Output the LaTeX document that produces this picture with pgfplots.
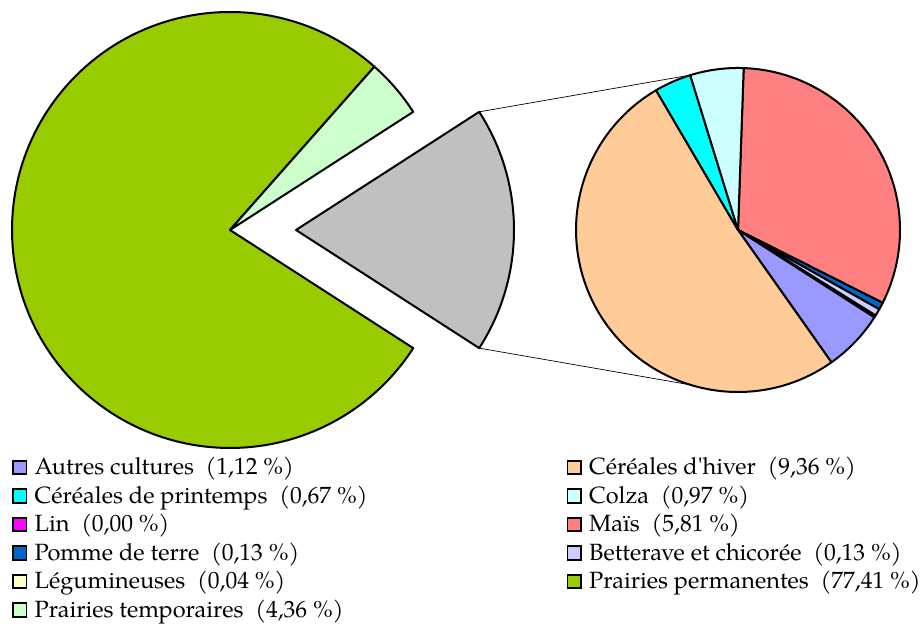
\documentclass[border=0pt]{standalone}
\usepackage{pgfplots}
\pgfplotsset{compat=1.18}
\usepackage{fontspec}
\setmainfont{TeX Gyre Pagella}
\definecolor{cPP}{HTML}{99CC00}
\definecolor{cPT}{HTML}{CCFFCC}
\definecolor{cGrey}{HTML}{C0C0C0}
\definecolor{cCH}{HTML}{FFCC99}
\definecolor{cCP}{HTML}{00FFFF}
\definecolor{cColza}{HTML}{CCFFFF}
\definecolor{cMais}{HTML}{FF8080}
\definecolor{cPomme}{HTML}{0066CC}
\definecolor{cBett}{HTML}{CCCCFF}
\definecolor{cLeg}{HTML}{FFFFCC}
\definecolor{cLin}{HTML}{FF00FF}
\definecolor{cAutres}{HTML}{9999FF}
% values (%)
\def\vPP{77.41}
\def\vPT{4.36}
\def\vOther{18.23}
\def\vLin{0.00}
\def\vMais{5.81}
\def\vPomme{0.13}
\def\vBett{0.13}
\def\vLeg{0.04}
\def\vAutres{1.12}
\def\vCH{9.36}
\def\vCP{0.67}
\def\vColza{0.97}
% sector: center x, center y, radius, start, end, colour
\newcommand\sector[6]{%
  \draw[line width=2bp,line join=round,fill=#6] (axis cs:#1,#2) -- ++(#4:#3bp)
     arc[start angle=#4,end angle=#5,radius=#3bp] -- cycle;}
\begin{document}
\begin{tikzpicture}[x=1bp,y=1bp]
\useasboundingbox (0,0) rectangle (922,624);
\pgfmathsetmacro\halfO{\vOther*3.6/2}
\pgfmathsetmacro\aPT{\halfO+\vPT*3.6}
\pgfmathsetmacro\aPPend{360-\halfO}
\pgfmathsetmacro\mhalfO{-\halfO}
\pgfmathsetmacro\kk{360/\vOther}
\pgfmathsetmacro\sA{88}
\pgfmathsetmacro\sB{\sA-\vLin*\kk}
\pgfmathsetmacro\sC{\sB-\vMais*\kk}
\pgfmathsetmacro\sD{\sC-\vPomme*\kk}
\pgfmathsetmacro\sE{\sD-\vBett*\kk}
\pgfmathsetmacro\sF{\sE-\vLeg*\kk}
\pgfmathsetmacro\sG{\sF-\vAutres*\kk}
\pgfmathsetmacro\sH{\sG-\vCH*\kk}
\pgfmathsetmacro\sI{\sH-\vCP*\kk}
\pgfmathsetmacro\sJ{\sI-\vColza*\kk}
\begin{axis}[at={(0,0)},anchor=south west,width=922bp,height=624bp,scale only axis,
  xmin=0,xmax=922,ymin=0,ymax=624,hide axis,clip=false]
% connector lines
\draw[line width=0.7bp] ([shift={(\halfO:218bp)}]axis cs:296,394) -- ([shift={(107:162bp)}]axis cs:738,394);
\draw[line width=0.7bp] ([shift={(\mhalfO:218bp)}]axis cs:296,394) -- ([shift={(-107:162bp)}]axis cs:738,394);
% main pie
\sector{230}{394}{218}{\aPT}{\aPPend}{cPP}
\sector{230}{394}{218}{\halfO}{\aPT}{cPT}
\sector{296}{394}{218}{\mhalfO}{\halfO}{cGrey}
% second pie
\sector{738}{394}{162}{\sA}{\sB}{cLin}
\sector{738}{394}{162}{\sB}{\sC}{cMais}
\sector{738}{394}{162}{\sC}{\sD}{cPomme}
\sector{738}{394}{162}{\sD}{\sE}{cBett}
\sector{738}{394}{162}{\sE}{\sF}{cLeg}
\sector{738}{394}{162}{\sF}{\sG}{cAutres}
\sector{738}{394}{162}{\sG}{\sH}{cCH}
\sector{738}{394}{162}{\sH}{\sI}{cCP}
\sector{738}{394}{162}{\sI}{\sJ}{cColza}
\end{axis}
% legend
\fontsize{23.6}{25}\selectfont
\foreach \k/\col/\txt in {0/cAutres/{Autres cultures~\ (1,12~\%)},
  1/cCP/{Céréales de printemps~\ (0,67~\%)},
  2/cLin/{Lin~\ (0,00~\%)},
  3/cPomme/{Pomme de terre~\ (0,13~\%)},
  4/cLeg/{Légumineuses~\ (0,04~\%)},
  5/cPT/{Prairies temporaires~\ (4,36~\%)}}{
  \pgfmathsetmacro\yb{624-475-28.5*\k}
  \draw[line width=1.8bp,fill=\col] (13,\yb+0.8) rectangle (26.5,\yb+14.3);
  \node[anchor=base west,inner sep=0pt] at (34.5,\yb) {\txt};
}
\foreach \k/\col/\txt in {0/cCH/{Céréales d\textquotesingle hiver~\ (9,36~\%)},
  1/cColza/{Colza~\ (0,97~\%)},
  2/cMais/{Maïs~\ (5,81~\%)},
  3/cBett/{Betterave et chicorée~\ (0,13~\%)},
  4/cPP/{Prairies permanentes~\ (77,41~\%)}}{
  \pgfmathsetmacro\yb{624-475-28.5*\k}
  \draw[line width=1.8bp,fill=\col] (567.5,\yb+0.8) rectangle (581,\yb+14.3);
  \node[anchor=base west,inner sep=0pt] at (589,\yb) {\txt};
}
\end{tikzpicture}
\end{document}
